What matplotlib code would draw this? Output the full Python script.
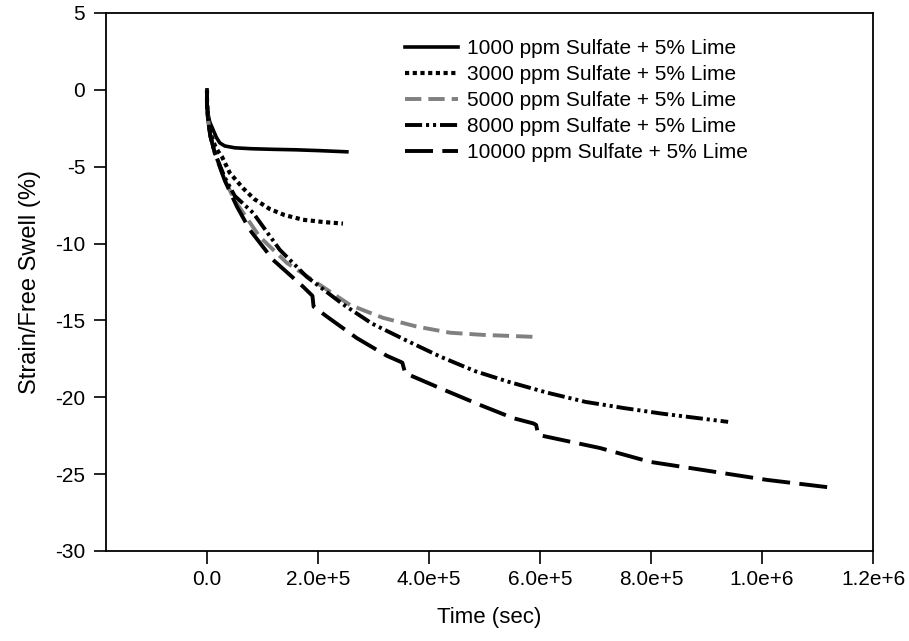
import matplotlib
matplotlib.use("Agg")
import matplotlib.pyplot as plt

plt.rcParams['font.family'] = ['Liberation Sans', 'DejaVu Sans']
plt.rcParams['axes.unicode_minus'] = False

labels = ["1000 ppm Sulfate + 5% Lime", "3000 ppm Sulfate + 5% Lime",
          "5000 ppm Sulfate + 5% Lime", "8000 ppm Sulfate + 5% Lime",
          "10000 ppm Sulfate + 5% Lime"]

t_1000 = [0, 0, 2e3, 5e3, 1.1e4, 1.7e4, 2.3e4, 3.2e4, 5e4, 8e4, 1.2e5, 1.6e5, 2e5, 2.52e5]
s_1000 = [0, -0.8, -1.6, -2.1, -2.6, -3.1, -3.45, -3.65, -3.77, -3.83, -3.87, -3.9, -3.95, -4.03]

t_3000 = [0, 0, 2e3, 6e3, 1.4e4, 2e4, 2.7e4, 4.1e4, 6.5e4, 8.5e4, 1.13e5, 1.4e5, 1.73e5, 2.1e5, 2.45e5]
s_3000 = [0, -0.9, -1.9, -2.8, -3.6, -4.0, -4.36, -5.4, -6.4, -7.1, -7.75, -8.15, -8.45, -8.6, -8.7]

t_5000 = [0, 0, 2e3, 6e3, 1.4e4, 3.2e4, 5e4, 9.5e4, 1.44e5, 1.98e5, 2.58e5, 3.17e5, 3.78e5, 4.38e5, 4.97e5, 5.9e5]
s_5000 = [0, -1.0, -1.95, -3.0, -4.1, -5.86, -7.2, -9.56, -11.26, -12.56, -14.0, -14.83, -15.4, -15.8, -15.94, -16.07]

t_8000 = [0, 0, 2e3, 6e3, 1.4e4, 3.2e4, 5e4, 8.3e4, 1.31e5, 1.8e5, 2.43e5, 2.97e5, 3.59e5, 4.2e5,
          4.83e5, 5.44e5, 6.13e5, 6.82e5, 7.51e5, 8.19e5, 9.39e5]
s_8000 = [0, -1.0, -1.95, -3.0, -4.1, -5.7, -6.9, -8.0, -10.4, -12.17, -13.9, -15.2, -16.3, -17.35,
          -18.3, -19.0, -19.7, -20.3, -20.7, -21.06, -21.6]

t_10000 = [0, 0, 2e3, 6e3, 1.4e4, 3.2e4, 5.4e4, 7.7e4, 1.19e5, 1.73e5, 1.9e5, 1.92e5, 2.16e5, 2.7e5,
           3.24e5, 3.48e5, 3.52e5, 3.57e5, 4.26e5, 4.92e5, 5.52e5, 5.88e5, 5.93e5, 5.97e5, 7.08e5,
           7.98e5, 8.88e5, 1.008e6, 1.13e6]
s_10000 = [0, -1.0, -1.95, -3.0, -4.1, -5.9, -7.6, -9.1, -11.06, -12.8, -13.4, -14.1, -14.75, -16.15,
           -17.3, -17.68, -17.75, -18.43, -19.5, -20.5, -21.36, -21.7, -21.8, -22.45, -23.3,
           -24.2, -24.7, -25.37, -25.9]

xticks = [0, 2e5, 4e5, 6e5, 8e5, 1e6, 1.2e6]
xticklabels = ["0.0", "2.0e+5", "4.0e+5", "6.0e+5", "8.0e+5", "1.0e+6", "1.2e+6"]
yticks = [5, 0, -5, -10, -15, -20, -25, -30]

fig = plt.figure(figsize=(9.09, 6.41), dpi=100)
ax = fig.add_axes([106/909, 1-551/641, (873-106)/909, (551-13)/641])

ax.plot(t_1000, s_1000, color='black', lw=2.6, ls='-', label=labels[0])
ax.plot(t_3000, s_3000, color='black', lw=3.0, ls=(0, (1.0, 0.85)), label=labels[1])
ax.plot(t_5000, s_5000, color='#808080', lw=2.8, ls=(0, (4.2, 1.8)), label=labels[2])
ax.plot(t_8000, s_8000, color='black', lw=2.8, ls=(0, (4.4, 1.0, 0.8, 1.0, 0.8, 1.0)), label=labels[3])
ax.plot(t_10000, s_10000, color='black', lw=2.8, ls=(0, (7.2, 2.4)), label=labels[4])

ax.set_xlim(-1.82e5, 1.2e6)
ax.set_ylim(-30, 5)
ax.set_xticks(xticks)
ax.set_xticklabels(xticklabels)
ax.set_yticks(yticks)
ax.tick_params(direction='out', length=9, width=1.2, labelsize=15)
ax.tick_params(axis='x', pad=5)
ax.tick_params(axis='y', pad=6)
for sp in ax.spines.values():
    sp.set_linewidth(1.3)

ax.set_xlabel("Time (sec)", fontsize=16, labelpad=13)
ax.set_ylabel("Strain/Free Swell (%)", fontsize=17, labelpad=10)

leg = ax.legend(loc='upper left', bbox_to_anchor=(0.39, 0.952), frameon=False, fontsize=15,
                handlelength=2.55, handletextpad=0.43, labelspacing=0.34, borderpad=0,
                borderaxespad=0)

fig.savefig("out.png", dpi=100)
